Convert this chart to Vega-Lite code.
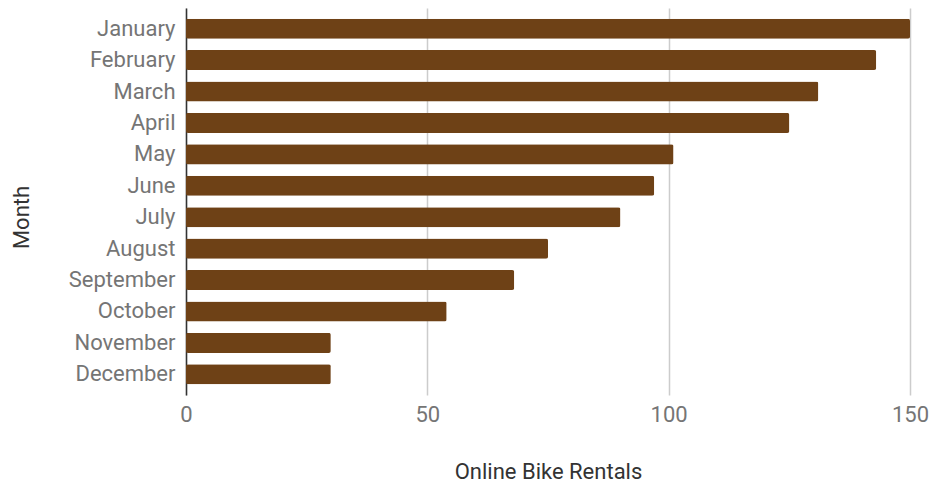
{
  "$schema": "https://vega.github.io/schema/vega-lite/v6.json",
  "width": 724,
  "height": 387,
  "autosize": "none",
  "padding": {"left": 186, "top": 8, "right": 20, "bottom": 87},
  "background": "white",
  "config": {
    "font": "Roboto",
    "view": {"stroke": null}
  },
  "data": {
    "values": [
      {"Month": "January", "Rentals": 150},
      {"Month": "February", "Rentals": 143},
      {"Month": "March", "Rentals": 131},
      {"Month": "April", "Rentals": 125},
      {"Month": "May", "Rentals": 101},
      {"Month": "June", "Rentals": 97},
      {"Month": "July", "Rentals": 90},
      {"Month": "August", "Rentals": 75},
      {"Month": "September", "Rentals": 68},
      {"Month": "October", "Rentals": 54},
      {"Month": "November", "Rentals": 30},
      {"Month": "December", "Rentals": 30}
    ]
  },
  "mark": {"type": "bar", "color": "#6E4116", "cornerRadius": 2},
  "encoding": {
    "y": {
      "field": "Month",
      "type": "nominal",
      "sort": null,
      "scale": {"paddingInner": 0.363, "paddingOuter": 0.34},
      "axis": {
        "title": "Month",
        "titleFont": "Roboto",
        "titleFontSize": 22,
        "titleFontWeight": "normal",
        "titleColor": "#333333",
        "titleAngle": -90,
        "titleAlign": "center",
        "titleBaseline": "middle",
        "titleX": -165,
        "titleY": 209,
        "labelFontSize": 22,
        "labelColor": "#757575",
        "labelPadding": 11,
        "ticks": false,
        "domainColor": "#333333",
        "domainWidth": 1.5
      }
    },
    "x": {
      "field": "Rentals",
      "type": "quantitative",
      "scale": {"domain": [0, 150], "nice": false},
      "axis": {
        "title": "Online Bike Rentals",
        "titleFontSize": 22,
        "titleFontWeight": "normal",
        "titleColor": "#333333",
        "titlePadding": 36,
        "values": [0, 50, 100, 150],
        "labelFontSize": 22,
        "labelColor": "#757575",
        "labelPadding": 9,
        "labelFlush": false,
        "ticks": false,
        "domain": false,
        "grid": true,
        "gridColor": "#cccccc",
        "gridWidth": 1.5
      }
    }
  }
}
